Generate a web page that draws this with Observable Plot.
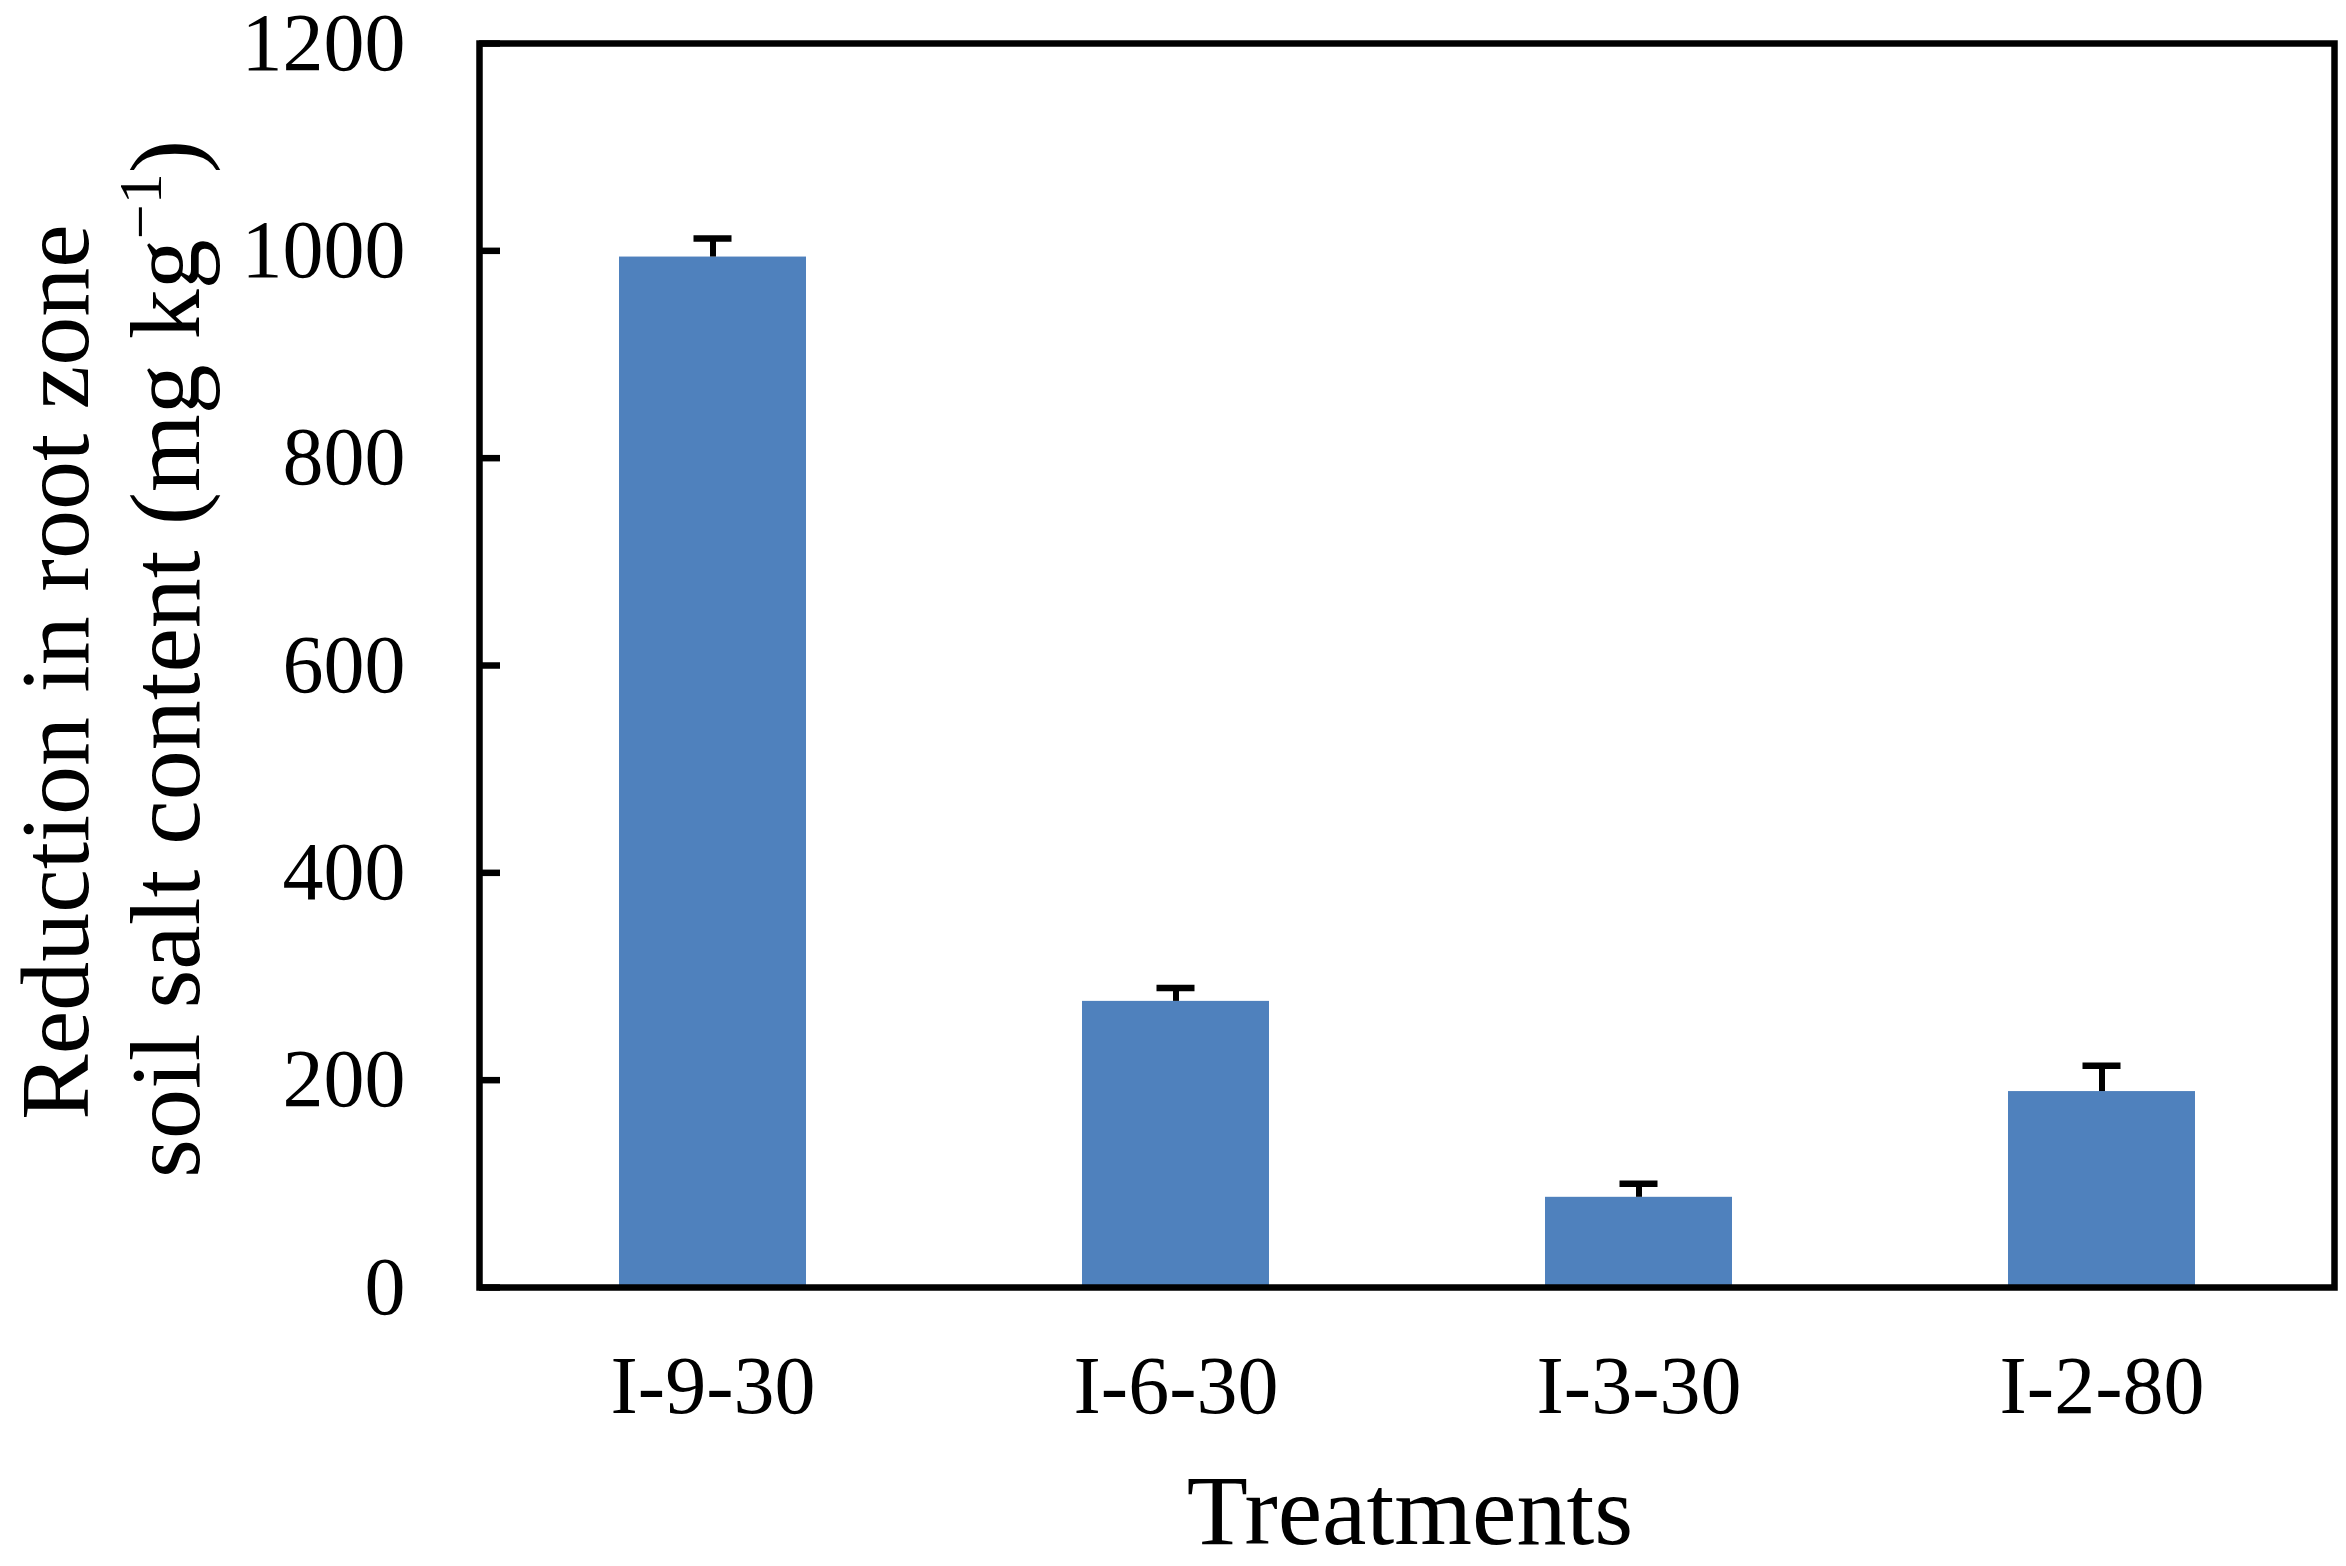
<!DOCTYPE html>
<html>
<head>
<meta charset="utf-8">
<script src="https://cdn.jsdelivr.net/npm/d3@7"></script>
<script src="https://cdn.jsdelivr.net/npm/@observablehq/plot@0.6"></script>
<style>
  html, body { margin: 0; padding: 0; background: #fff; }
  svg { display: block; }
</style>
</head>
<body>
<div id="chart"></div>
<script>
const categories = ["I-9-30", "I-6-30", "I-3-30", "I-2-80"];
const values = [994, 276, 87, 189];
const errors = [18, 13, 13, 25];
const yTicks = [0, 200, 400, 600, 800, 1000, 1200];

const data = categories.map((c, i) => ({cat: c, value: values[i], err: errors[i]}));

const FONT = "'Liberation Serif', 'Times New Roman', serif";
const W = 2346, H = 1566;
const mL = 479, mR = 12, mT = 43, mB = 279;

const svg = Plot.plot({
  width: W,
  height: H,
  marginLeft: mL,
  marginRight: mR,
  marginTop: mT,
  marginBottom: mB,
  style: {background: "#fff", fontFamily: FONT, color: "#000", overflow: "visible"},
  x: {type: "band", domain: categories, paddingInner: 0.597, paddingOuter: 0.2985, label: null},
  y: {domain: [0, 1200], label: null},
  marks: [
    Plot.barY(data, {x: "cat", y: "value", fill: "#4F81BD"}),
    Plot.ruleX(data, {x: "cat", y1: "value", y2: d => d.value + d.err, stroke: "#000", strokeWidth: 6}),
    Plot.tickY(data, {x: "cat", y: d => d.value + d.err, stroke: "#000", strokeWidth: 6.5, insetLeft: 74.5, insetRight: 74.5}),
    Plot.axisY({ticks: yTicks, tickSize: -21, tickPadding: 95, strokeWidth: 6.5, fontSize: 82, fontFamily: FONT, label: null, tickFormat: d => String(d)}),
    Plot.axisX({tickSize: 0, tickPadding: 67, fontSize: 82, fontFamily: FONT, label: null}),
    Plot.frame({stroke: "#000", strokeWidth: 6.5})
  ]
});

document.getElementById("chart").appendChild(svg);

const s = d3.select(svg);
// x axis title
s.append("text")
  .attr("x", 1410)
  .attr("y", 1544)
  .attr("text-anchor", "middle")
  .attr("font-family", FONT)
  .attr("font-size", 100)
  .attr("fill", "#000")
  .text("Treatments");

// y axis title (two lines)
s.append("text")
  .attr("transform", "translate(88,672) rotate(-90)")
  .attr("text-anchor", "middle")
  .attr("font-family", FONT)
  .attr("font-size", 98)
  .attr("fill", "#000")
  .text("Reduction in root zone");

const t2 = s.append("text")
  .attr("transform", "translate(199,659) rotate(-90)")
  .attr("text-anchor", "middle")
  .attr("font-family", FONT)
  .attr("font-size", 100)
  .attr("fill", "#000");
t2.append("tspan").text("soil salt content (mg kg");
t2.append("tspan").attr("font-size", 62).attr("dy", -38).text("\u22121");
t2.append("tspan").attr("dy", 38).text(")");
</script>
</body>
</html>
